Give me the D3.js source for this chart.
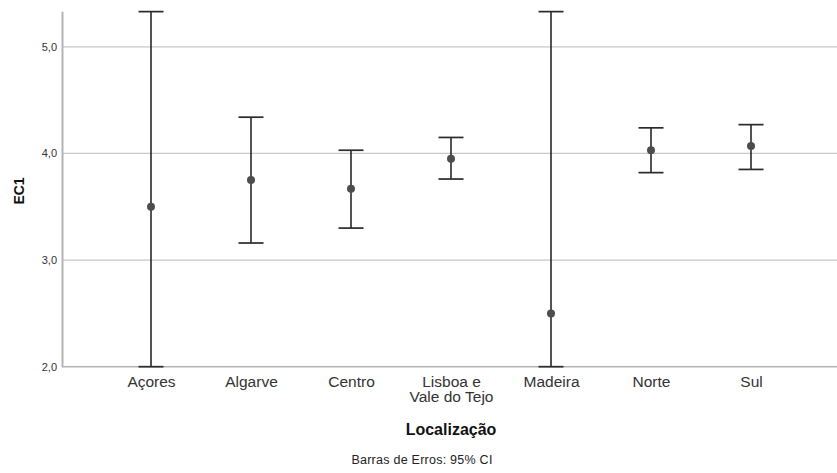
<!DOCTYPE html>
<html>
<head>
<meta charset="utf-8">
<script src="https://cdn.jsdelivr.net/npm/d3@7"></script>
<style>
  body { margin: 0; background: #fff; }
  svg { display: block; font-family: "Liberation Sans", Arial, sans-serif; }
</style>
</head>
<body>
<svg id="chart" width="837" height="473"></svg>
<script>
const categories = ["Açores", "Algarve", "Centro", "Lisboa e\nVale do Tejo", "Madeira", "Norte", "Sul"];
const means = [3.50, 3.75, 3.67, 3.95, 2.50, 4.03, 4.07];
const lower = [2.00, 3.16, 3.30, 3.76, 2.00, 3.82, 3.85];
const upper = [5.33, 4.34, 4.03, 4.15, 5.33, 4.24, 4.27];
const yTicks = [2, 3, 4, 5];
const yTitle = "EC1";
const xTitle = "Localização";
const footnote = "Barras de Erros: 95% CI";

(function() {
const svg = d3.select("#chart");
const mLeft = 62, mRight = 837, mTop = 11.3, mBottom = 366.7;
const FONT = "Liberation Sans, Arial, sans-serif";

const x = d3.scalePoint().domain(categories).range([151, 751]);
const y = d3.scaleLinear().domain([2, 5.333]).range([mBottom, mTop]);
const fmt = v => d3.format(".1f")(v).replace(".", ",");

// gridlines
svg.append("g").selectAll("line").data(yTicks.filter(t => t > 2)).join("line")
  .attr("x1", mLeft).attr("x2", mRight)
  .attr("y1", d => y(d)).attr("y2", d => y(d))
  .attr("stroke", "#c8c8c8").attr("stroke-width", 1.2);

// y axis
const yAxis = svg.append("g").attr("transform", `translate(${mLeft},0)`)
  .call(d3.axisLeft(y).tickValues(yTicks).tickFormat(fmt).tickSize(0).tickPadding(5));
yAxis.select(".domain").attr("stroke", "#b4b4b4").attr("stroke-width", 2);
yAxis.selectAll("text").attr("font-size", 11).attr("fill", "#333")
  .attr("font-family", FONT);

// x axis
const xAxis = svg.append("g").attr("transform", `translate(0,${mBottom})`)
  .call(d3.axisBottom(x).tickSize(0).tickPadding(0).tickFormat(""));
xAxis.select(".domain").attr("d", `M${mLeft},0H${mRight}`).attr("stroke", "#b4b4b4").attr("stroke-width", 1.5);
xAxis.selectAll(".tick").each(function(d) {
  const lines = d.split("\n");
  const t = d3.select(this).append("text")
    .attr("fill", "#333").attr("font-size", 15.5).attr("text-anchor", "middle")
    .attr("font-family", FONT);
  lines.forEach((l, i) => t.append("tspan").attr("x", 0).attr("y", 20.5 + i * 15.2).text(l));
});

// error bars
const g = svg.append("g");
const data = categories.map((c, i) => ({c, m: means[i], lo: lower[i], hi: upper[i]}));
g.selectAll(".stem").data(data).join("line").attr("class", "stem")
  .attr("x1", d => x(d.c)).attr("x2", d => x(d.c))
  .attr("y1", d => y(d.lo)).attr("y2", d => y(d.hi))
  .attr("stroke", "#1a1a1a").attr("stroke-width", 1.5);
["lo", "hi"].forEach(k => {
  g.selectAll(".cap-" + k).data(data).join("line").attr("class", "cap-" + k)
    .attr("x1", d => x(d.c) - 12.5).attr("x2", d => x(d.c) + 12.5)
    .attr("y1", d => y(d[k])).attr("y2", d => y(d[k]))
    .attr("stroke", "#2a2a2a").attr("stroke-width", 1.7);
});
g.selectAll("circle").data(data).join("circle")
  .attr("cx", d => x(d.c)).attr("cy", d => y(d.m)).attr("r", 4)
  .attr("fill", "#4d4d4d");

// titles
svg.append("text").attr("transform", `translate(24,191) rotate(-90)`)
  .attr("text-anchor", "middle").attr("font-size", 14).attr("font-weight", "bold")
  .attr("fill", "#111").attr("font-family", FONT).text(yTitle);
svg.append("text").attr("x", 451).attr("y", 434.5).attr("text-anchor", "middle")
  .attr("font-size", 16).attr("font-weight", "bold").attr("fill", "#111")
  .attr("font-family", FONT).text(xTitle);
svg.append("text").attr("x", 422).attr("y", 464).attr("text-anchor", "middle")
  .attr("font-size", 12.5).attr("letter-spacing", 0.25).attr("fill", "#222")
  .attr("font-family", FONT).text(footnote);
})();
</script>
</body>
</html>
